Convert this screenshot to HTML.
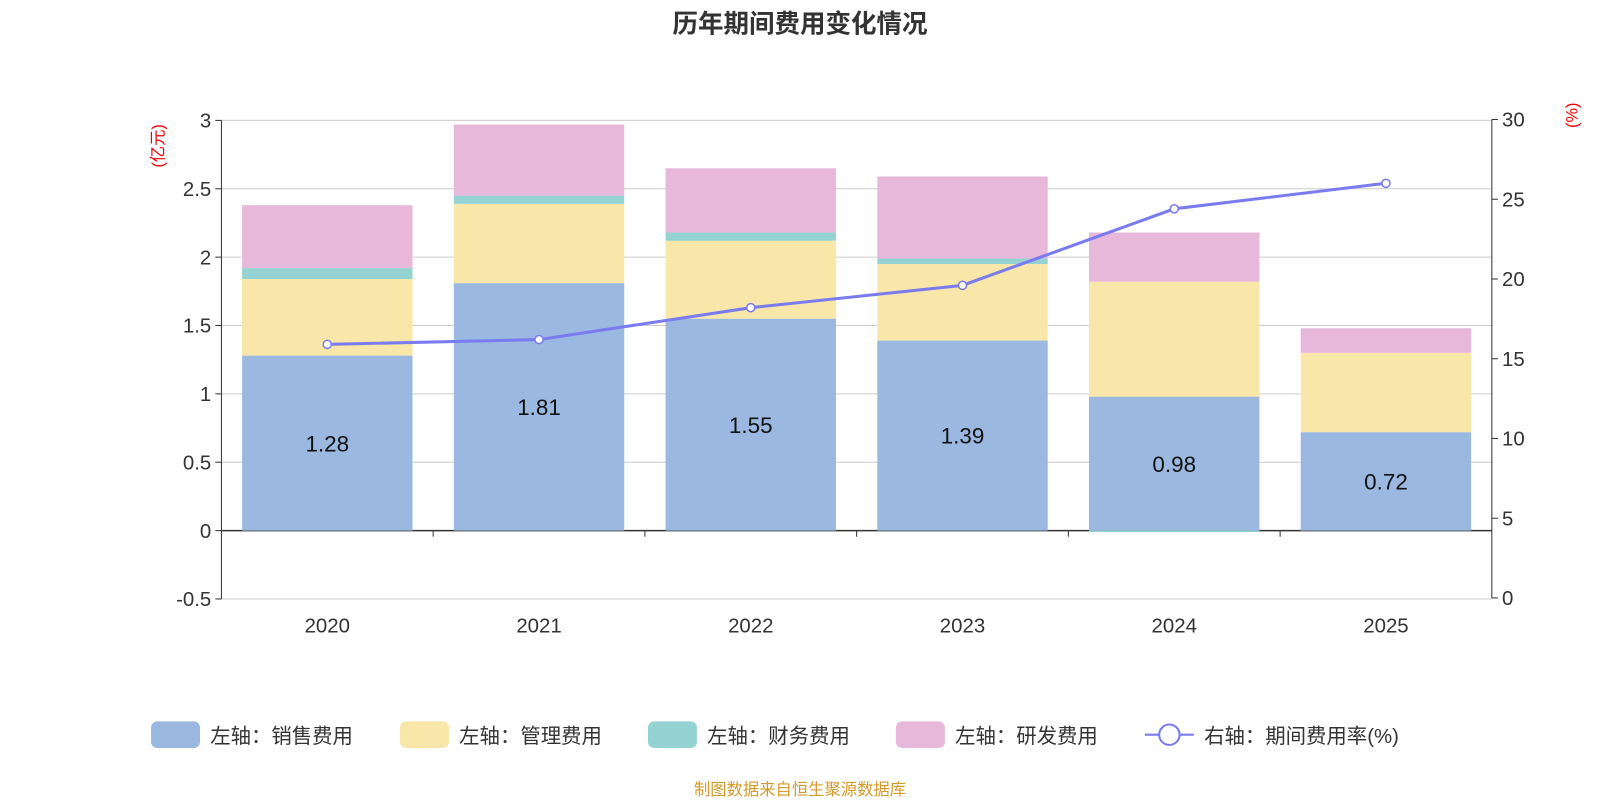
<!DOCTYPE html>
<html><head><meta charset="utf-8"><style>
body{margin:0;background:#fff;font-family:"Liberation Sans","Noto Sans CJK SC",sans-serif;}
svg text{font-family:"Liberation Sans","Noto Sans CJK SC",sans-serif;}
</style></head><body>
<svg id="chart" width="1600" height="800" xmlns="http://www.w3.org/2000/svg">
<g transform="scale(1.020408)">
<text x="784" y="32" text-anchor="middle" font-size="25" font-weight="bold" fill="#333">历年期间费用变化情况</text>
<text transform="translate(160,143) rotate(-90)" text-anchor="middle" font-size="16" fill="#e00">(亿元)</text>
<text transform="translate(1546,113) rotate(-90)" text-anchor="middle" font-size="16" fill="#e00">(%)</text>
<g id="grid"></g><g id="bars"></g><g id="axes"></g><g id="line"></g>
<g font-size="20" fill="#333">
<rect x="148" y="707" width="48" height="26" rx="6" fill="#9bb8e1"/><text x="206" y="728">左轴：销售费用</text>
<rect x="392" y="707" width="48" height="26" rx="6" fill="#f8e7a9"/><text x="450" y="728">左轴：管理费用</text>
<rect x="635" y="707" width="48" height="26" rx="6" fill="#95d3d3"/><text x="693" y="728">左轴：财务费用</text>
<rect x="878" y="707" width="48" height="26" rx="6" fill="#e8b8da"/><text x="936" y="728">左轴：研发费用</text>
<line x1="1122" y1="720" x2="1170" y2="720" stroke="#7b7bf0" stroke-width="2"/><circle cx="1146" cy="720" r="10" fill="#fff" stroke="#7b7bf0" stroke-width="2"/><text x="1180" y="728">右轴：期间费用率(%)</text>
</g>
<text x="784" y="779" text-anchor="middle" font-size="16" fill="#d49a2a">制图数据来自恒生聚源数据库</text>
</g>
</svg>
<script>
const categories=["2020","2021","2022","2023","2024","2025"];
const sales=[1.28,1.81,1.55,1.39,0.98,0.72];
const mgmt=[0.56,0.58,0.57,0.56,0.84,0.58];
const fin=[0.08,0.06,0.06,0.04,-0.01,0];
const rd=[0.46,0.52,0.47,0.60,0.36,0.18];
const rate=[15.9,16.2,18.2,19.6,24.4,26.0];
const leftTicks=[-0.5,0,0.5,1,1.5,2,2.5,3];
const rightTicks=[0,5,10,15,20,25,30];
const NS="http://www.w3.org/2000/svg";
const X0=217,X1=1462;
const yL=v=>520-v*134;
const yR=v=>586-v*15.63;
const band=(X1-X0)/categories.length;
const xC=i=>X0+band*(i+0.5);
function mk(tag,attrs,parent,text){const e=document.createElementNS(NS,tag);for(const k in attrs)e.setAttribute(k,attrs[k]);if(text!==undefined)e.textContent=text;document.getElementById(parent).appendChild(e);return e;}
leftTicks.forEach(t=>{
 const g=mk('line',{x1:X0,x2:X1,y1:yL(t),y2:yL(t),stroke:t===0?'#333':'#ccc','stroke-width':t===0?1.5:1},'grid');
 
 
 const tk=mk('line',{x1:X0-6,x2:X0,y1:yL(t),y2:yL(t),stroke:'#333'},'axes');
 
 
 const l=mk('text',{x:X0-10,y:yL(t)+7,'text-anchor':'end','font-size':20,fill:'#333'},'axes',String(t));
 
 
});
rightTicks.forEach(t=>{
 const tk=mk('line',{x1:X1,x2:X1+6,y1:yR(t),y2:yR(t),stroke:'#333'},'axes');
 
 
 const l=mk('text',{x:X1+10,y:yR(t)+7,'font-size':20,fill:'#333'},'axes',String(t));
 
 
});
let a=mk('line',{x1:X0,x2:X0,y1:yL(3),y2:yL(-0.5),stroke:'#333'},'axes');


a=mk('line',{x1:X1,x2:X1,y1:yR(30),y2:yR(0),stroke:'#333'},'axes');


for(let i=1;i<categories.length;i++){
 const tk=mk('line',{x1:X0+band*i,x2:X0+band*i,y1:520,y2:526,stroke:'#333'},'axes');
 
 
}
const bw=167;
const series=[[sales,'#9bb8e1','sales'],[mgmt,'#f8e7a9','mgmt'],[fin,'#95d3d3','fin'],[rd,'#e8b8da','rd']];
categories.forEach((c,i)=>{
 let pos=0,neg=0;
 series.forEach(([arr,col,nm])=>{
  const v=arr[i];let y0,y1;
  if(v>=0){y0=pos;y1=pos+v;pos=y1;}else{y0=neg+v;y1=neg;neg=y0;}
  const r=mk('rect',{x:xC(i)-bw/2,y:yL(y1),width:bw,height:Math.max(0,yL(y0)-yL(y1)),fill:col},'bars');
  
  
 });
 const t=mk('text',{x:xC(i),y:yL(sales[i]/2)+8,'text-anchor':'middle','font-size':22,fill:'#111'},'bars',sales[i].toFixed(2));
 
 
 const xl=mk('text',{x:xC(i),y:620,'text-anchor':'middle','font-size':20,fill:'#333'},'axes',c);
 
 
});
const pl=mk('polyline',{points:rate.map((v,i)=>xC(i)+','+yR(v)).join(' '),fill:'none',stroke:'#7b7bf0','stroke-width':3},'line');


rate.forEach((v,i)=>{
 const p=mk('circle',{cx:xC(i),cy:yR(v),r:4,fill:'#fff',stroke:'#7b7bf0','stroke-width':1.5},'line');
 
 
});
</script>
</body></html>
